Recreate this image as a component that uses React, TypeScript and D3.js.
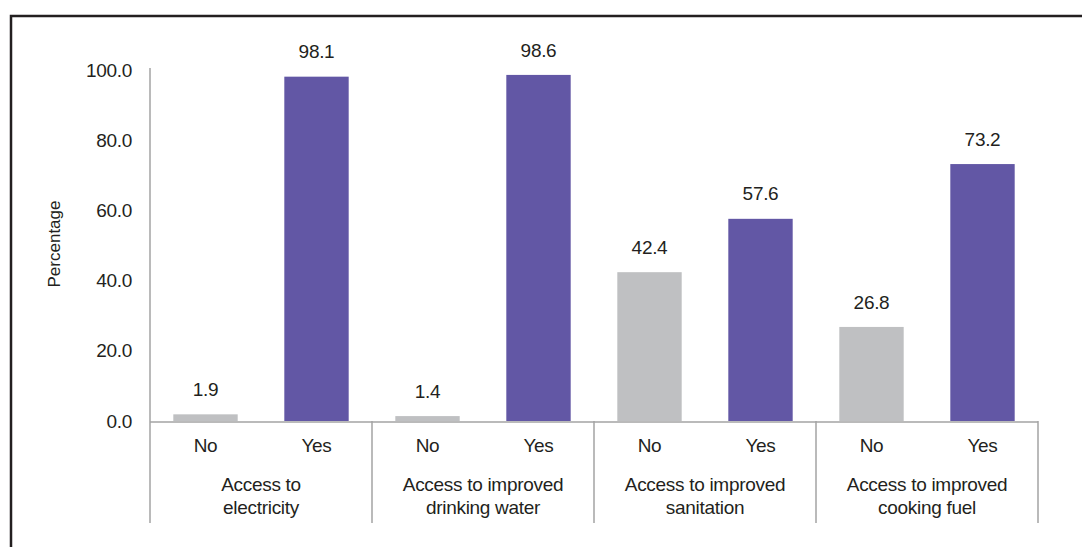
import React from "react";
import * as d3 from "d3";

const groups = [
  ["Access to", "electricity"],
  ["Access to improved", "drinking water"],
  ["Access to improved", "sanitation"],
  ["Access to improved", "cooking fuel"],
];
const answers = ["No", "Yes"];
const noValues = [1.9, 1.4, 42.4, 26.8];
const yesValues = [98.1, 98.6, 57.6, 73.2];
const yTicks = [0, 20, 40, 60, 80, 100];
const yTitle = "Percentage";

const colors: Record<string, string> = { No: "#BFC0C2", Yes: "#6257A5" };
const FONT = "'Liberation Sans', Arial, sans-serif";

export default function App() {
  const W = 1082, H = 547;
  const left = 150, right = 1038, top = 70, base = 421;
  const groupKeys = groups.map((g, i) => String(i));
  const x0 = d3.scaleBand<string>().domain(groupKeys).range([left, right]).padding(0);
  const x1 = d3.scaleBand<string>().domain(answers).range([0, x0.bandwidth()]).paddingInner(0.42).paddingOuter(0.21);
  const y = d3.scaleLinear().domain([0, 100]).range([base, top]);

  const bars = groupKeys.flatMap((g, i) => [
    { g, a: "No", v: noValues[i] },
    { g, a: "Yes", v: yesValues[i] },
  ]);

  const axisColor = "#A3A3A3";
  const textColor = "#231F20";
  const fs = 19;

  return (
    <svg width={W} height={H} style={{ position: "absolute", left: 0, top: 0 }} fontFamily={FONT}>
      <rect x={0} y={0} width={W} height={H} fill="#fff" />
      <rect x={11} y={16} width={W + 20} height={H + 20} fill="none" stroke="#231F20" strokeWidth={2.5} />
      {bars.map((b, i) => {
        const bx = (x0(b.g) as number) + (x1(b.a) as number);
        const by = y(b.v);
        return (
          <g key={i}>
            <rect x={bx} y={by} width={x1.bandwidth()} height={base - by} fill={colors[b.a]} />
            <text x={bx + x1.bandwidth() / 2} y={by - 25} dy="0.35em" textAnchor="middle" fontSize={fs} fill={textColor} letterSpacing={-0.3}>
              {b.v.toFixed(1)}
            </text>
          </g>
        );
      })}
      {/* y axis */}
      <line x1={left} x2={left} y1={top - 2} y2={base} stroke={axisColor} strokeWidth={1.5} />
      {yTicks.map((t) => (
        <text key={t} x={132} y={y(t)} dy="0.35em" textAnchor="end" fontSize={fs} fill={textColor} letterSpacing={-0.3}>
          {t.toFixed(1)}
        </text>
      ))}
      <text transform={`translate(60,244) rotate(-90)`} textAnchor="middle" fontSize={17} fill={textColor}>
        {yTitle}
      </text>
      {/* x axis */}
      <line x1={left} x2={right} y1={base + 1} y2={base + 1} stroke={axisColor} strokeWidth={1.5} />
      {[...groupKeys.map((g) => x0(g) as number), right].map((xv, i) => (
        <line key={i} x1={xv} x2={xv} y1={base} y2={523} stroke={axisColor} strokeWidth={1.5} />
      ))}
      {bars.map((b, i) => (
        <text key={i} x={(x0(b.g) as number) + (x1(b.a) as number) + x1.bandwidth() / 2} y={445} dy="0.35em" textAnchor="middle" fontSize={fs} fill={textColor} letterSpacing={-0.3}>
          {b.a}
        </text>
      ))}
      {groups.map((lines, i) => (
        <text key={i} x={(x0(groupKeys[i]) as number) + x0.bandwidth() / 2} textAnchor="middle" fontSize={fs} fill={textColor} letterSpacing={-0.3}>
          {lines.map((l, j) => (
            <tspan key={j} x={(x0(groupKeys[i]) as number) + x0.bandwidth() / 2} y={484 + j * 23} dy="0.35em">
              {l}
            </tspan>
          ))}
        </text>
      ))}
    </svg>
  );
}
